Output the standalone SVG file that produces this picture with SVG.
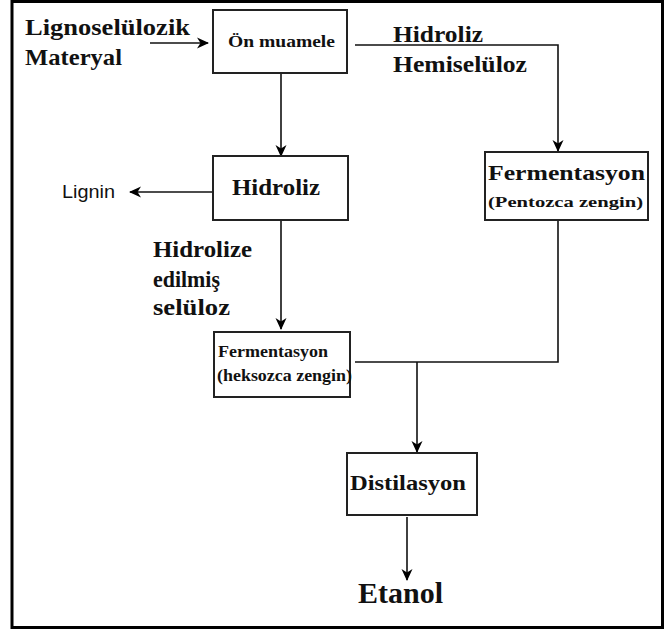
<svg xmlns="http://www.w3.org/2000/svg" width="666" height="630" viewBox="0 0 666 630">
<defs>
<marker id="ah" viewBox="0 0 12 12" refX="11" refY="6" markerWidth="12" markerHeight="12" markerUnits="userSpaceOnUse" orient="auto">
<path d="M0,0.5 L12,6 L0,11.5 L3.5,6 Z" fill="#000"/>
</marker>
<style>
.box{fill:#fff;stroke:#222;stroke-width:2}
.t{font-family:"Liberation Serif","Times New Roman",serif;font-weight:bold;fill:#111}
.s{font-family:"Liberation Sans",Arial,sans-serif;fill:#111}
.c{fill:none;stroke:#111;stroke-width:1.6}
.a{marker-end:url(#ah)}
</style>
</defs>
<rect x="0" y="0" width="666" height="630" fill="#fff"/>
<rect x="12" y="1.5" width="650.5" height="626" fill="none" stroke="#000" stroke-width="3"/>

<g id="connectors">
<line class="c a" x1="150" y1="43" x2="208" y2="43"/>
<line class="c a" x1="281" y1="74" x2="281" y2="156"/>
<polyline class="c a" points="355,45 558,45 558,151"/>
<line class="c a" x1="212" y1="192" x2="130" y2="192"/>
<line class="c a" x1="281" y1="221" x2="281" y2="329"/>
<polyline class="c" points="558,221 558,362 355,362"/>
<line class="c a" x1="417" y1="362" x2="417" y2="452"/>
<line class="c a" x1="407" y1="517" x2="407" y2="580"/>
</g>

<g id="lignoselulozik">
<text class="t" x="25" y="35" font-size="23" textLength="165" lengthAdjust="spacingAndGlyphs">Lignoselülozik</text>
<text class="t" x="25" y="65" font-size="23" textLength="97" lengthAdjust="spacingAndGlyphs">Materyal</text>
</g>

<g id="on-muamele">
<rect class="box" x="213" y="10" width="134" height="63"/>
<text class="t" x="228" y="47" font-size="17" textLength="107" lengthAdjust="spacingAndGlyphs">Ön muamele</text>
</g>

<g id="hidroliz-hemiseluloz">
<text class="t" x="393" y="42" font-size="23" textLength="90" lengthAdjust="spacingAndGlyphs">Hidroliz</text>
<text class="t" x="393" y="72" font-size="23" textLength="134" lengthAdjust="spacingAndGlyphs">Hemiselüloz</text>
</g>

<g id="hidroliz">
<rect class="box" x="213" y="156" width="135" height="64"/>
<text class="t" x="232" y="195" font-size="24" textLength="88" lengthAdjust="spacingAndGlyphs">Hidroliz</text>
</g>

<g id="lignin">
<text class="s" x="62" y="198" font-size="18" textLength="53" lengthAdjust="spacingAndGlyphs">Lignin</text>
</g>

<g id="fermentasyon-pentozca">
<rect class="box" x="485" y="152" width="163" height="68"/>
<text class="t" x="488" y="180" font-size="21" textLength="157" lengthAdjust="spacingAndGlyphs">Fermentasyon</text>
<text class="t" x="488" y="207" font-size="15" textLength="155" lengthAdjust="spacingAndGlyphs">(Pentozca zengin)</text>
</g>

<g id="hidrolize-seluloz">
<text class="t" x="153" y="257" font-size="23" textLength="99" lengthAdjust="spacingAndGlyphs">Hidrolize</text>
<text class="t" x="153" y="287" font-size="23" textLength="67" lengthAdjust="spacingAndGlyphs">edilmiş</text>
<text class="t" x="153" y="315" font-size="23" textLength="77" lengthAdjust="spacingAndGlyphs">selüloz</text>
</g>

<g id="fermentasyon-heksozca">
<rect class="box" x="214" y="332" width="136" height="65"/>
<text class="t" x="218" y="357" font-size="16" textLength="110" lengthAdjust="spacingAndGlyphs">Fermentasyon</text>
<text class="t" x="217" y="381" font-size="16" textLength="135" lengthAdjust="spacingAndGlyphs">(heksozca zengin)</text>
</g>

<g id="distilasyon">
<rect class="box" x="347" y="453" width="130" height="62"/>
<text class="t" x="350" y="490" font-size="20" textLength="116" lengthAdjust="spacingAndGlyphs">Distilasyon</text>
</g>

<g id="etanol">
<text class="t" x="358" y="603" font-size="30" textLength="85" lengthAdjust="spacingAndGlyphs">Etanol</text>
</g>
</svg>
